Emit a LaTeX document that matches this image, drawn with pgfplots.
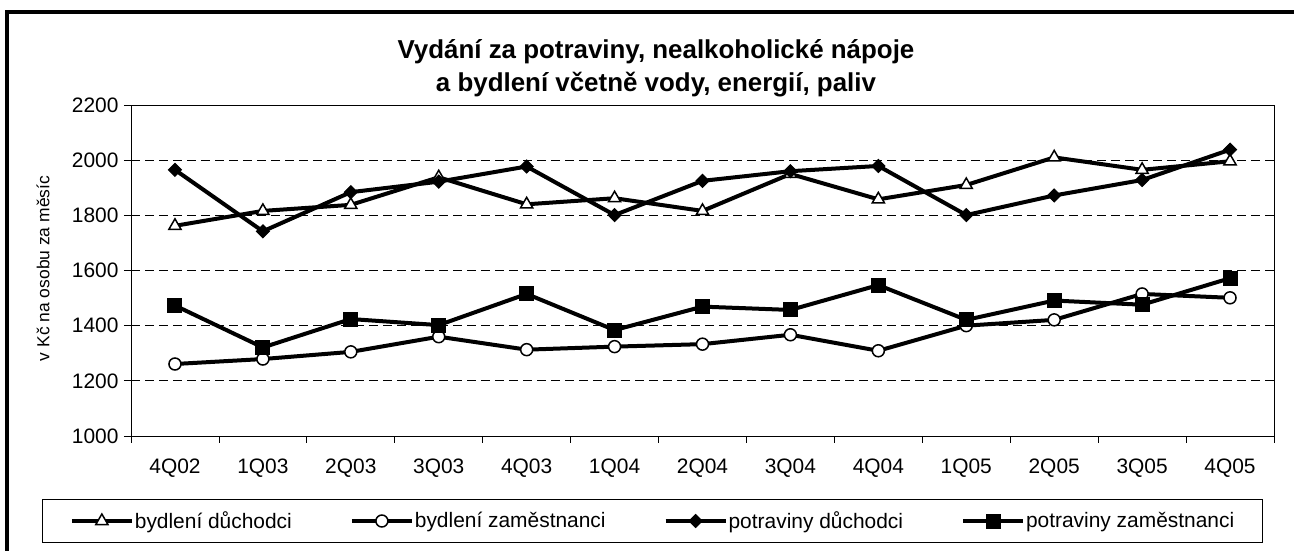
\documentclass[border=0pt]{standalone}
\usepackage{pgfplots}
\pgfplotsset{compat=1.18}
\usepackage{fontspec}
\setmainfont{Liberation Sans}

\pgfplotstableread{
x bd bz pd pz
0 1762 1261 1965 1473
1 1816 1279 1742 1321
2 1838 1305 1884 1424
3 1938 1360 1922 1402
4 1840 1313 1977 1515
5 1862 1324 1801 1384
6 1816 1333 1925 1469
7 1950 1367 1960 1457
8 1858 1309 1979 1547
9 1910 1400 1801 1421
10 2010 1421 1872 1491
11 1965 1515 1928 1476
12 1996 1501 2038 1572
}\datatable

\begin{document}
\begin{tikzpicture}
\useasboundingbox (0,0) rectangle (1294bp,551bp);
\clip (0,0) rectangle (1294bp,551bp);
\draw[line width=4bp, black] (7bp,539bp) rectangle (1310bp,-20bp);
\begin{axis}[
  at={(131bp,115bp)}, anchor=south west,
  width=1143bp, height=331bp, scale only axis,
  xmin=-0.5, xmax=12.5, ymin=1000, ymax=2200,
  xtick={0,...,12},
  xticklabels={4Q02,1Q03,2Q03,3Q03,4Q03,1Q04,2Q04,3Q04,4Q04,1Q05,2Q05,3Q05,4Q05},
  minor xtick={-0.5,0.5,...,12.5},
  major x tick style={draw=none},
  ytick={1000,1200,...,2200},
  tick align=outside,
  major tick length=7bp, minor tick length=7bp,
  xtick pos=bottom, ytick pos=left,
  tick style={black, line width=0.8bp},
  axis line style={black, line width=0.8bp},
  ymajorgrids,
  grid style={black, line width=0.7bp, dash pattern=on 9bp off 5bp},
  /pgf/number format/assume math mode=true,
  /pgf/number format/1000 sep={},
  tick label style={font=\fontsize{21}{25}\selectfont, text=black},
  xticklabel style={yshift=-12bp},
  yticklabel style={xshift=-2bp},
  ylabel={v Kč na osobu za měsíc},
  every axis y label/.style={at={(axis description cs:-0.077,0.506)}, rotate=90, anchor=center, font=\fontsize{17.5}{21}\selectfont},
  title={Vydání za potraviny, nealkoholické nápoje\\a bydlení včetně vody, energií, paliv},
  title style={at={(axis description cs:0.4593,1.092)}, anchor=center, align=center, font=\bfseries\fontsize{26}{33}\selectfont},
  legend columns=4,
  legend style={at={(axis description cs:0.4563,-0.2568)}, anchor=center, draw=black, line width=1bp,
    inner xsep=27bp, inner ysep=11bp,
    font=\fontsize{21}{25}\selectfont,
    nodes={inner xsep=1bp, inner ysep=1bp},
    /tikz/every even column/.append style={column sep=57bp}},
  legend image code/.code={\draw[mark repeat=2,mark phase=2,#1] plot coordinates {(0bp,0bp) (30bp,0bp) (60bp,0bp)};},
  every axis plot/.append style={line width=4bp, black},
]
\addplot[mark=triangle*, mark size=7bp, mark options={solid, fill=white, line width=1.5bp}] table[x=x,y=bd]{\datatable};
\addlegendentry{bydlení důchodci}
\addplot[mark=*, mark size=6bp, mark options={solid, fill=white, line width=1.5bp}] table[x=x,y=bz]{\datatable};
\addlegendentry{bydlení zaměstnanci}
\addplot[mark=square*, mark size=4.6bp, mark options={solid, fill=black, line width=1bp, rotate=45}] table[x=x,y=pd]{\datatable};
\addlegendentry{potraviny důchodci}
\addplot[mark=square*, mark size=7bp, mark options={solid, fill=black, line width=1bp}] table[x=x,y=pz]{\datatable};
\addlegendentry{potraviny zaměstnanci}
\end{axis}
\end{tikzpicture}
\end{document}
